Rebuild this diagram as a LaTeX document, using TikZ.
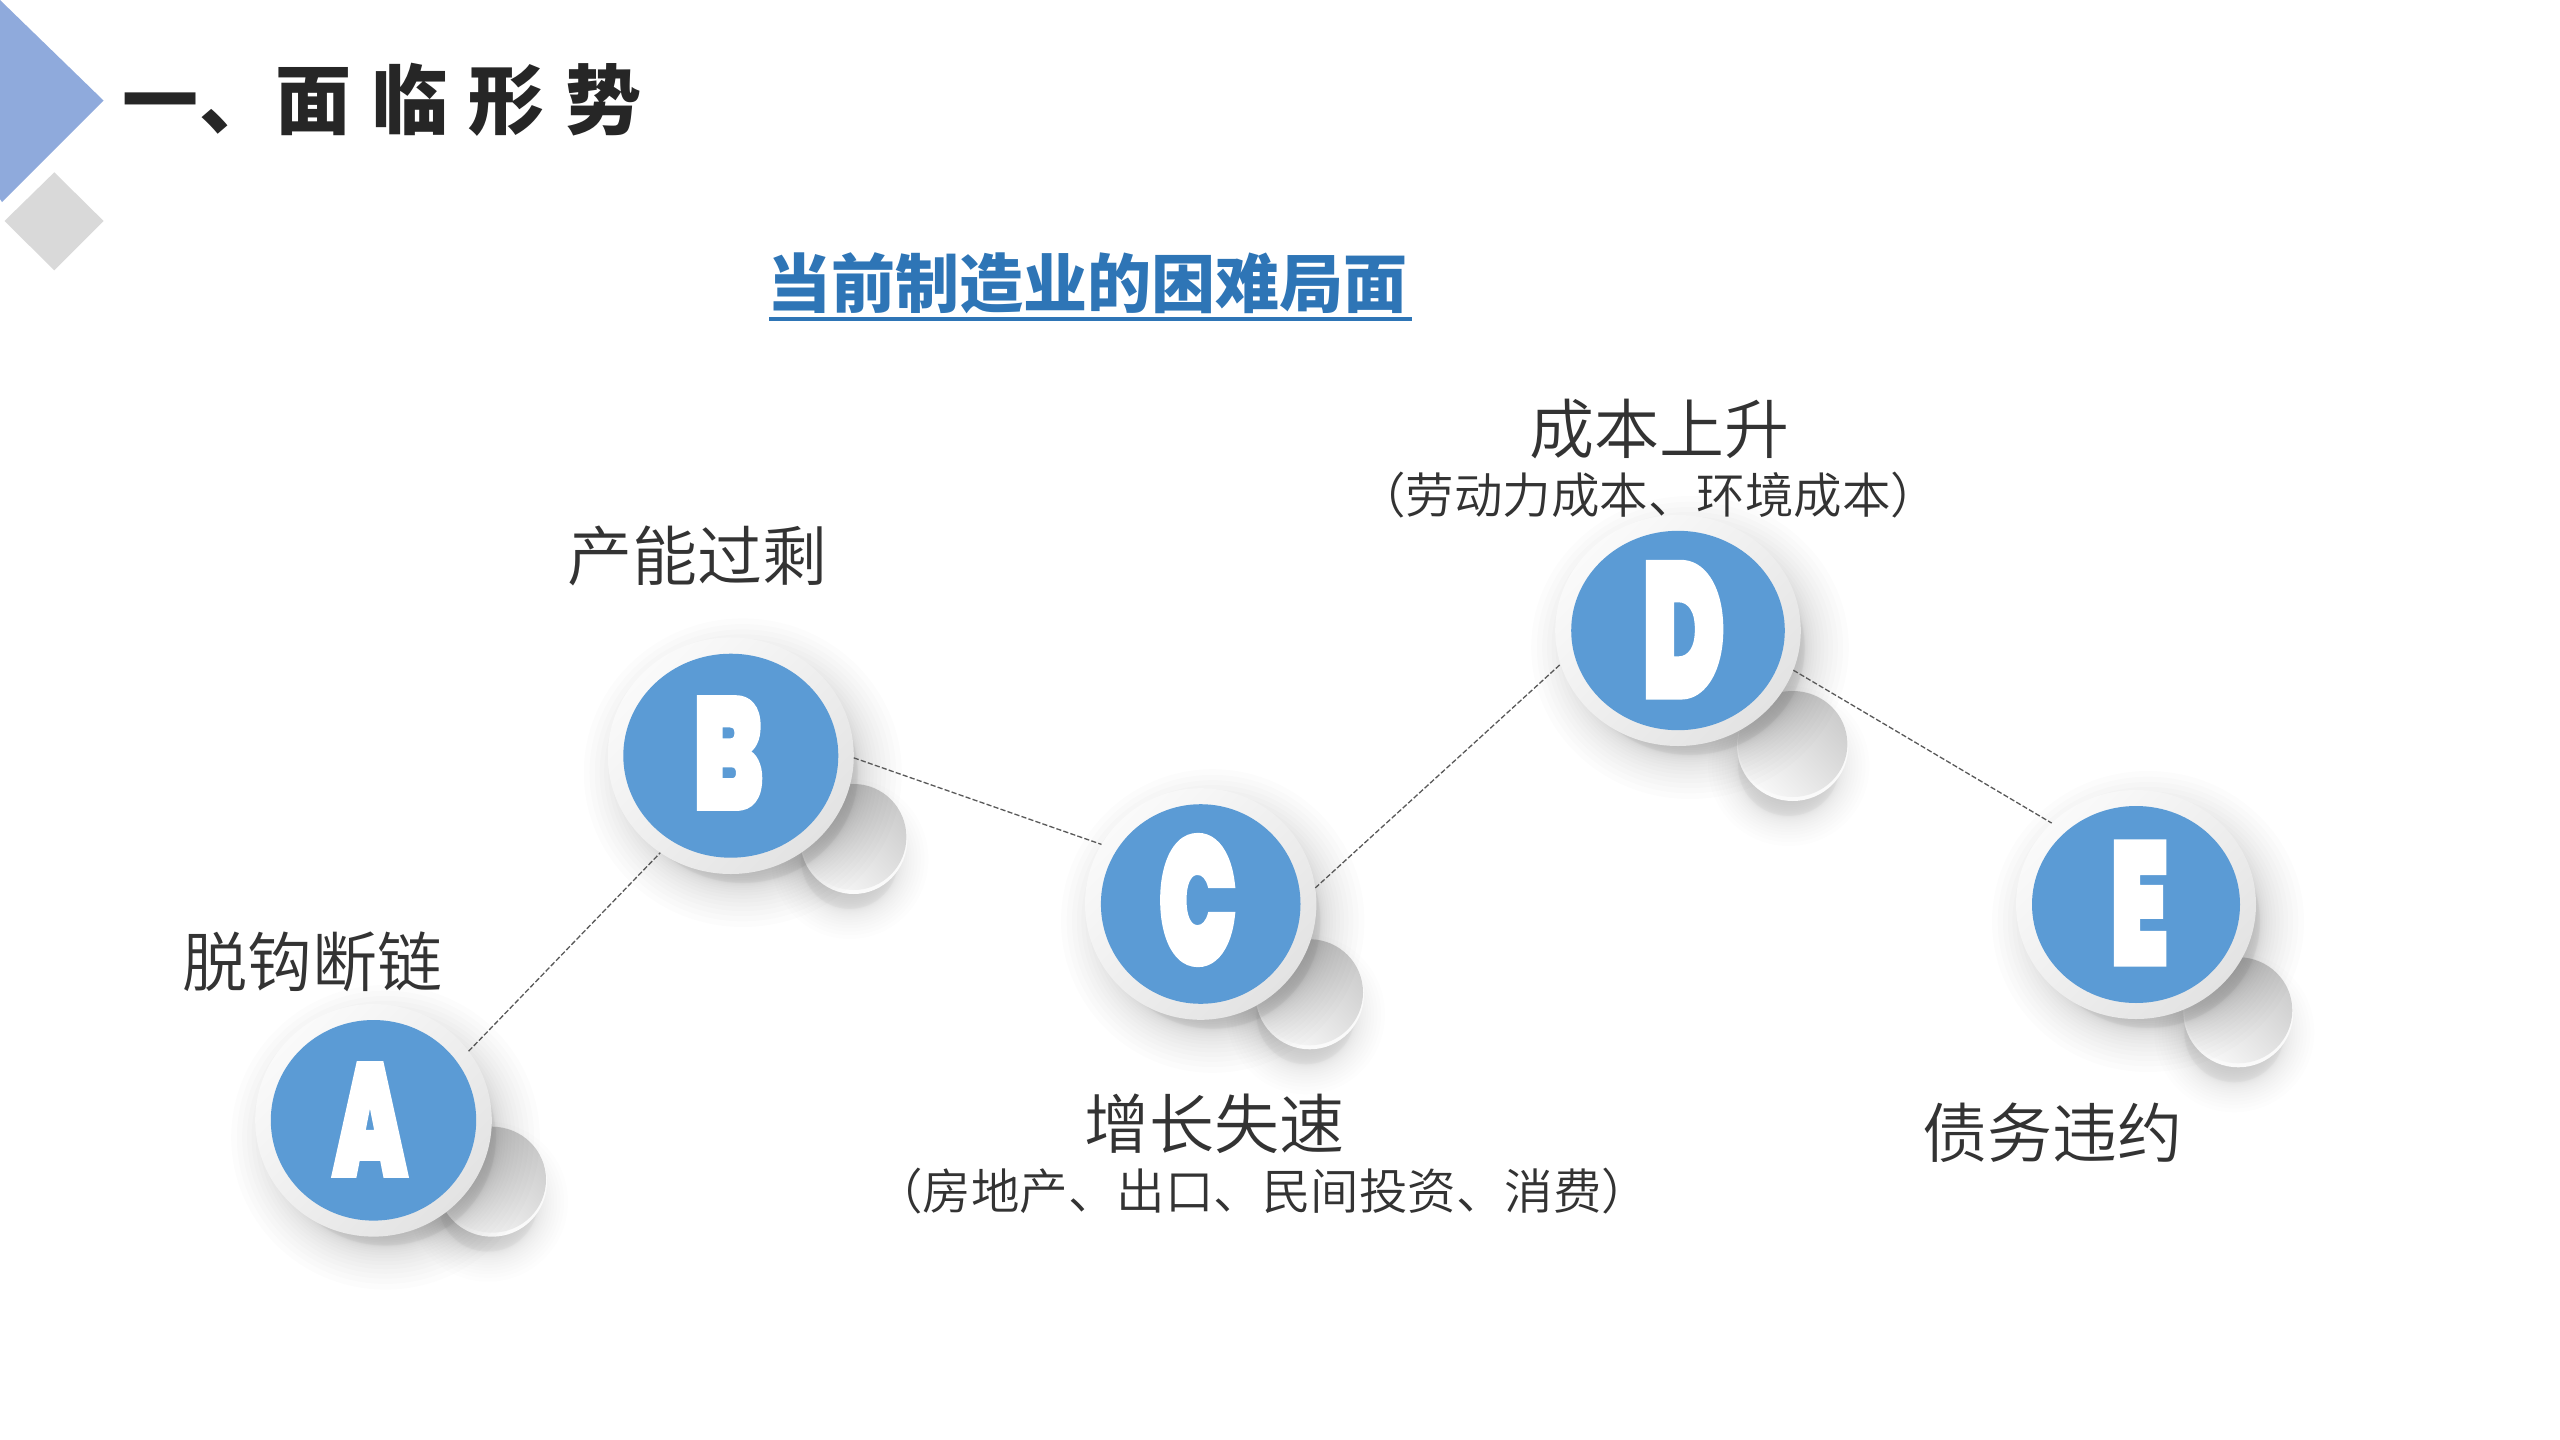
\documentclass[tikz,border=0pt]{standalone}
\usepackage{fontspec}
\usepackage{graphicx}
\usetikzlibrary{shapes.geometric}
\setmainfont{Liberation Sans}
\newfontfamily\cjkbold{Noto Sans CJK SC Black}
\newfontfamily\cjktitle{Noto Sans CJK SC Black}[LetterSpace=27]
\newfontfamily\cjklight{Noto Sans CJK SC DemiLight}
\newfontfamily\heavyfont[FakeBold=3]{Poppins Black}
\definecolor{circleblue}{HTML}{5B9BD5}
\definecolor{subblue}{HTML}{2E75B6}
\definecolor{labelgrey}{HTML}{333333}
\definecolor{titlegrey}{HTML}{262626}
\definecolor{triblue}{HTML}{8FAADC}
\definecolor{diamondgrey}{HTML}{D9D9D9}
\definecolor{dashgrey}{HTML}{595959}
\tikzset{
  ring/.style={ellipse,inner sep=0pt,outer sep=0pt,shading=axis,top color=white!98!black,bottom color=black!11,shading angle=45},
  face/.style={ellipse,inner sep=0pt,outer sep=0pt,fill=circleblue},
  lab/.style={inner sep=0pt,outer sep=0pt,text=labelgrey,font=\cjklight\fontsize{32.5pt}{32.5pt}\selectfont},
  sublab/.style={inner sep=0pt,outer sep=0pt,text=labelgrey,font=\cjklight\fontsize{24.25pt}{24.25pt}\selectfont},
  lettr/.style={inner sep=0pt,outer sep=0pt,text=white},
  dashline/.style={draw=dashgrey,line width=0.65pt,dash pattern=on 2.6pt off 1.1pt},
}
% soft shadow: stack of faint ellipses (units are px), denser near the nominal radius
\newcommand{\softshadow}[6]{%
  \foreach \k in {0,...,30}{%
    \pgfmathsetmacro{\u}{1-2*\k/30}
    \pgfmathsetmacro{\d}{#5*\u*abs(\u)}
    \fill[black,opacity=#6] (#1,#2) ellipse [x radius={#3+\d},y radius={#4+\d}];
  }}
% small disc: x,y,rx,ry
\newcommand{\smalldisc}[4]{%
  \softshadow{#1-4}{#2+20}{#3-5}{#4-5}{30}{0.007}
  \fill[white!98!black] (#1,#2) ellipse [x radius=#3,y radius=#4];
  \shade[shading=axis,top color=black!20,bottom color=black!3,shading angle=-45] (#1,#2-2) ellipse [x radius=#3-1,y radius=#4-2];
}
% big disc: name,x,y,Rx,Ry,rx,ry
\newcommand{\bigdisc}[7]{%
  \softshadow{#2+12}{#3+17}{#4-8}{#5-8}{44}{0.012}
  \node[ring,minimum width=#4 pt,minimum height=#5 pt] (#1) at (#2,#3) {};
  \node[face,minimum width=#6 pt,minimum height=#7 pt] (#1f) at (#2,#3) {};
}
% letter: name,text,cx,cy,w,h (w,h given in pt = px/2)
\newcommand{\bigletter}[6]{%
  \node[lettr] (#1) at (#3,#4) {\resizebox{#5pt}{#6pt}{\heavyfont #2}};
}
\begin{document}
\begin{tikzpicture}[x=0.5pt,y=-0.5pt]
\useasboundingbox (0,0) rectangle (2560,1440);
\fill[white] (0,0) rectangle (2560,1440);
% corner marks
\fill[triblue] (0,0) -- (103.5,100.5) -- (2,202) -- (0,199) -- cycle;
\fill[diamondgrey] (54.3,172.3) -- (103.6,221) -- (54.3,270.3) -- (4.5,221) -- cycle;
% heading
\node[inner sep=0pt,text=titlegrey,font=\cjktitle\fontsize{38pt}{38pt}\selectfont] (title) at (382,99.5) {一\hspace{0.6pt}、\hspace{0pt}面临形势};
\node[inner sep=0pt,text=subblue,font=\cjkbold\fontsize{32pt}{32pt}\selectfont] (sub) at (1087.5,283.5) {当前制造业的困难局面};
\fill[subblue] (768.5,316.5) rectangle (1411.5,320.5);
% labels
\node[lab] (la) at (312,962) {脱钩断链};
\node[lab] (lb) at (697,556) {产能过剩};
\node[lab] (lc) at (1214,1123.5) {增长失速};
\node[sublab] (lcs) at (1262,1191) {（房地产、出口、民间投资、消费）};
\node[lab] (ld) at (1659,428.8) {成本上升};
\node[sublab] (lds) at (1648,495.3) {（劳动力成本、环境成本）};
\node[lab] (le) at (2052,1132.5) {债务违约};
% discs
\smalldisc{492}{1181.7}{55}{55}
\bigdisc{a}{373.5}{1120.3}{118.3}{116.3}{102.7}{100.3}
\smalldisc{853.7}{839}{53.7}{55}
\bigdisc{b}{730.8}{755.7}{123}{118.3}{107.5}{102}
\smalldisc{1309.7}{994.3}{54.3}{55}
\bigdisc{c}{1200.7}{904}{115.7}{115.8}{99.8}{99.8}
\smalldisc{1792.7}{746}{55.7}{55}
\bigdisc{d}{1678}{630.5}{122.8}{115.5}{106.8}{99.7}
\smalldisc{2238.3}{1012.3}{55}{55}
\bigdisc{e}{2136}{904.5}{120}{114.5}{104}{98.5}
% letters
\bigletter{ta}{A}{370}{1119.5}{37}{56}
\bigletter{tb}{B}{728.3}{753}{35}{55.5}
\bigletter{tc}{C}{1197.6}{900}{39}{64}
\bigletter{td}{D}{1683.5}{629.7}{41.5}{67}
\bigletter{te}{E}{2139.2}{903}{29}{61}
% connectors
\draw[dashline] (a.36.3) -- (b.234.3);
\draw[dashline] (b.-1) -- (c.149.8);
\draw[dashline] (c.8.2) -- (d.196.3);
\draw[dashline] (d.-19.2) -- (e.136.6);
\end{tikzpicture}
\end{document}
